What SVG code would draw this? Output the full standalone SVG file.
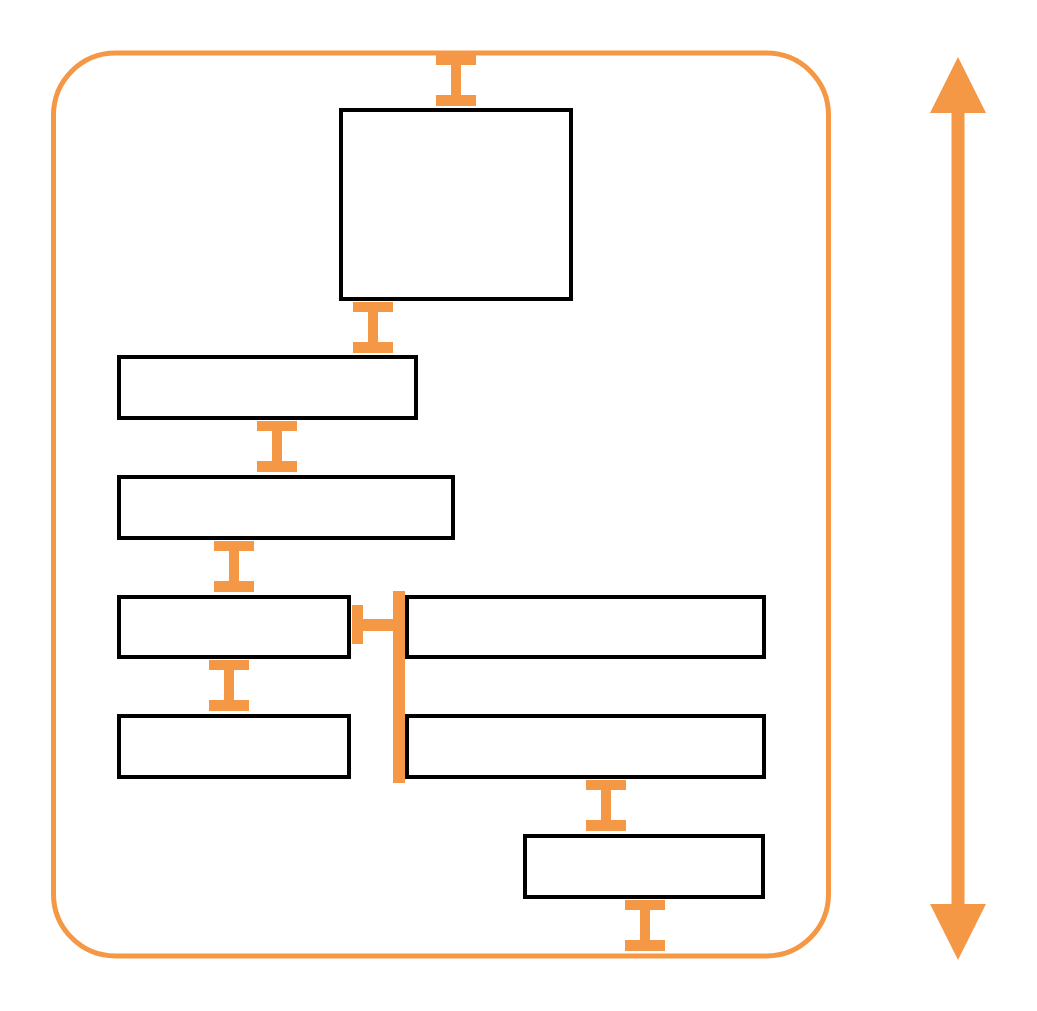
<svg xmlns="http://www.w3.org/2000/svg" width="1037" height="1011" viewBox="0 0 1037 1011">
  <style>
    .box { fill: #ffffff; stroke: #000000; stroke-width: 4; }
    .frame { fill: none; stroke: #F59845; stroke-width: 5; }
    .link { fill: #F59845; stroke: none; }
  </style>
  <defs>
    <!-- I-shaped link: flange, stem, flange; origin at top centre -->
    <symbol id="ibeam" overflow="visible">
      <path d="M-20,0 H20 V10 H5 V40 H20 V51 H-20 V40 H-5 V10 H-20 Z"/>
    </symbol>
  </defs>
  <rect width="1037" height="1011" fill="#ffffff"/>

  <!-- container frame -->
  <rect class="frame" x="53.5" y="53" width="775" height="903" rx="62" ry="62"/>

  <g id="node-top"><rect class="box" x="341" y="110" width="230" height="189"/></g>
  <g id="node-2"><rect class="box" x="119" y="357" width="297" height="61"/></g>
  <g id="node-3"><rect class="box" x="119" y="477" width="334" height="61"/></g>
  <g id="node-4"><rect class="box" x="119" y="597" width="230" height="60"/></g>
  <g id="node-5"><rect class="box" x="119" y="716" width="230" height="61"/></g>
  <g id="node-6"><rect class="box" x="407" y="597" width="357" height="60"/></g>
  <g id="node-7"><rect class="box" x="407" y="716" width="357" height="61"/></g>
  <g id="node-8"><rect class="box" x="525" y="836" width="238" height="61"/></g>

  <g id="connectors" class="link">
    <use href="#ibeam" x="456" y="55"/>
    <use href="#ibeam" x="373" y="302"/>
    <use href="#ibeam" x="277" y="421"/>
    <use href="#ibeam" x="234" y="541"/>
    <use href="#ibeam" x="229" y="660"/>
    <use href="#ibeam" x="606" y="780"/>
    <use href="#ibeam" x="645" y="900"/>
    <!-- side bracket joining node-4 to the right-hand column -->
    <rect x="393" y="591" width="12" height="192"/>
    <rect x="362" y="619" width="32" height="12"/>
    <rect x="352" y="605" width="11" height="39"/>
    <!-- double-headed height arrow -->
    <rect x="951.5" y="110" width="13" height="797"/>
    <polygon points="958,57 986,113 930,113"/>
    <polygon points="958,960 986,904 930,904"/>
  </g>
</svg>
